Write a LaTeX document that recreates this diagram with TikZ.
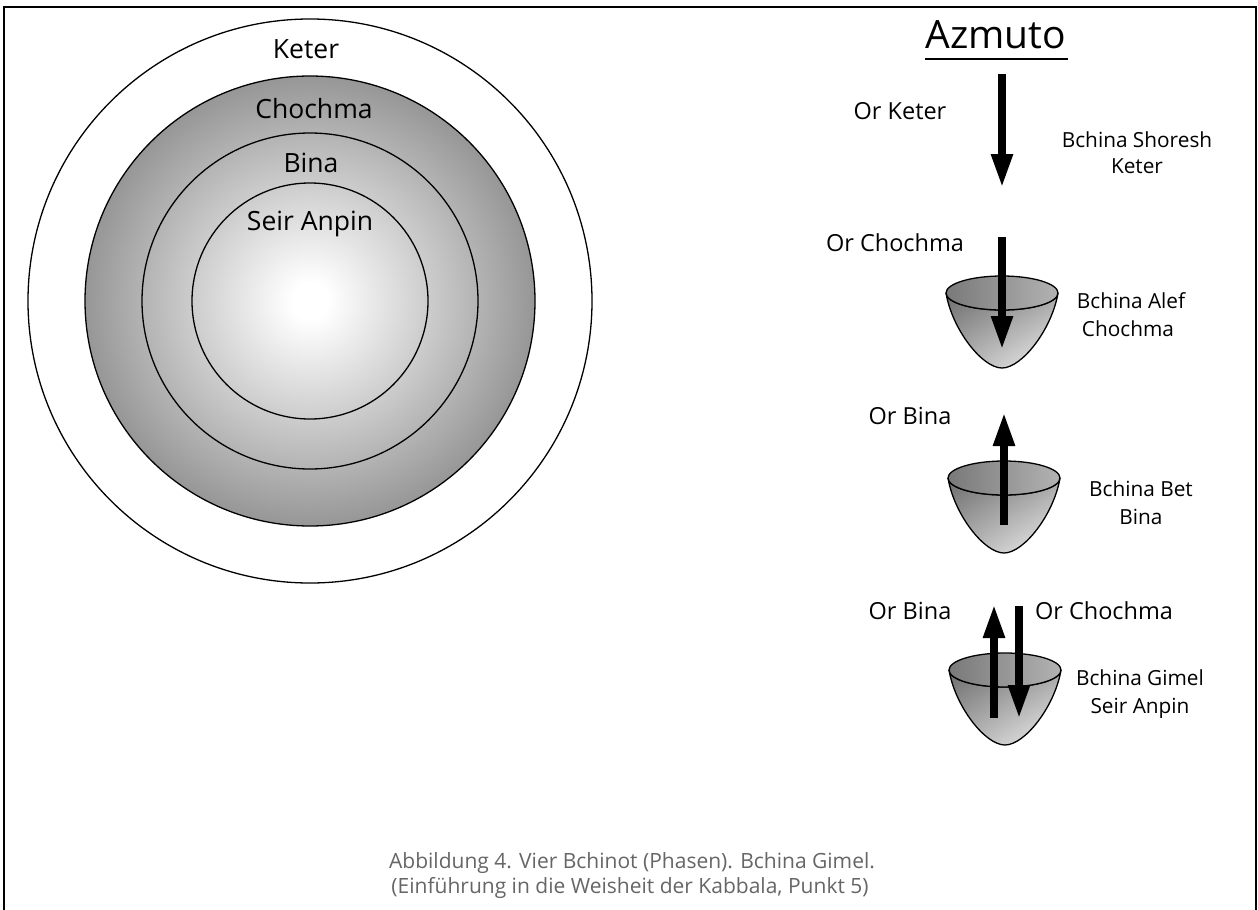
\documentclass[tikz,border=0pt]{standalone}
\usepackage{fontspec}
\setmainfont{Open Sans}
\usetikzlibrary{arrows.meta,shadings}
\pgfdeclareradialshading{rings}{\pgfpoint{0bp}{0bp}}{color(0bp)=(white);color(2bp)=(white);color(25bp)=(gray!82);color(50bp)=(gray!82)}
\definecolor{captiongray}{HTML}{666666}
\tikzset{
  ring/.style={draw=black, line width=1.3pt},
  ringlabel/.style={anchor=base, inner sep=0pt, font=\fontsize{26.5}{28}\selectfont},
  orlabel/.style={anchor=base, inner sep=0pt, font=\fontsize{23.5}{26}\selectfont},
  bchlabel/.style={anchor=base, inner sep=0pt, font=\fontsize{20.8}{24}\selectfont},
  caplabel/.style={anchor=base, inner sep=0pt, text=captiongray, font=\fontsize{21}{22}\selectfont},
  bigarr/.style={line width=8pt, -{Triangle[width=20pt,length=34pt]}},
  vbody/.style={draw=black, line width=1.3pt, upper left=gray!85!black, upper right=gray!70, lower left=gray!65, lower right=gray!10},
  vtop/.style={draw=black, line width=1.3pt, left color=gray!95!black, right color=gray!60},
}
\newcommand\drawvessel[2]{%
  \path[vbody] (#1-56,#2) .. controls (#1-50,#2+36) and (#1-20,#2+75) .. (#1,#2+75)
     .. controls (#1+20,#2+75) and (#1+50,#2+36) .. (#1+56,#2)
     arc[start angle=0, end angle=180, x radius=56, y radius=17] -- cycle;
  \path[vtop] (#1,#2) ellipse [x radius=56, y radius=17];
}
\begin{document}
\begin{tikzpicture}[x=1pt, y=-1pt]
\useasboundingbox (0,0) rectangle (1258,910);
\fill[white] (0,0) rectangle (1258,910);
% frame
\draw[line width=2.5pt] (4,912) -- (4,7) -- (1256,7) -- (1256,912);
% circles
\draw[ring, fill=white] (310,301) circle[radius=282];
\path[shading=rings] (310,301) circle[radius=225];
\draw[ring] (310,301) circle[radius=225];
\draw[ring] (310,301) circle[radius=168];
\draw[ring] (310,301) circle[radius=118];
\node[ringlabel] (keter) at (306,58) {Keter};
\node[ringlabel] (chochma) at (314,118) {Chochma};
\node[ringlabel] (bina) at (311,172) {Bina};
\node[ringlabel] (seir) at (310,230) {Seir Anpin};
% title
\node[anchor=base, inner sep=0pt, font=\fontsize{39}{42}\selectfont] (azmuto) at (996,48) {Azmuto};
\draw[line width=2pt] (925,59) -- (1068,59);
% vessels
\drawvessel{1002}{293}
\drawvessel{1004}{478}
\drawvessel{1005}{670}
% arrows
\coordinate (a1s) at (1002,74);  \coordinate (a1e) at (1002,188);
\coordinate (a2s) at (1002,237); \coordinate (a2e) at (1002,350);
\coordinate (a3s) at (1004,525); \coordinate (a3e) at (1004,412);
\coordinate (a4s) at (994,718);  \coordinate (a4e) at (994,604);
\coordinate (a5s) at (1019,606); \coordinate (a5e) at (1019,719);
\draw[bigarr] (a1s) -- (a1e);
\draw[bigarr] (a2s) -- (a2e);
\draw[bigarr] (a3s) -- (a3e);
\draw[bigarr] (a4s) -- (a4e);
\draw[bigarr] (a5s) -- (a5e);
% labels
\node[orlabel] (ork) at (900,119) {Or Keter};
\node[bchlabel] (b0a) at (1137,147) {Bchina Shoresh};
\node[bchlabel] (b0b) at (1137,173) {Keter};
\node[orlabel] (orc) at (895,251) {Or Chochma};
\node[bchlabel] (b1a) at (1131,308) {Bchina Alef};
\node[bchlabel] (b1b) at (1128,336) {Chochma};
\node[orlabel] (orb) at (910,424) {Or Bina};
\node[bchlabel] (b2a) at (1141,496) {Bchina Bet};
\node[bchlabel] (b2b) at (1141,524) {Bina};
\node[orlabel] (orb2) at (910,619) {Or Bina};
\node[orlabel] (orc2) at (1104,619) {Or Chochma};
\node[bchlabel] (b3a) at (1140,685) {Bchina Gimel};
\node[bchlabel] (b3b) at (1140,713) {Seir Anpin};
% caption
\node[caplabel] (cap1) at (632,868) {Abbildung 4. Vier Bchinot (Phasen). Bchina Gimel.};
\node[caplabel] (cap2) at (630,893) {(Einführung in die Weisheit der Kabbala, Punkt 5)};
\end{tikzpicture}
\end{document}
